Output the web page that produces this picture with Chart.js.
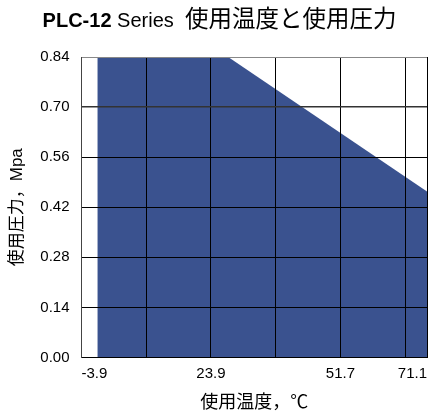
<!DOCTYPE html>
<html lang="ja">
<head>
  <meta charset="UTF-8">
  <title>PLC-12 Series 使用温度と使用圧力</title>
  <script src="https://cdn.jsdelivr.net/npm/chart.js"></script>
  <style>
    body {
      margin: 0;
      background-color: #fff;
    }
    .wrap {
      position: relative;
      width: 435px;
      height: 414px;
    }
  </style>
</head>
<body>
  <div class="wrap"><canvas id="chart"></canvas></div>

  <script>
    // operating envelope: temperature (°C) vs max pressure (MPa)
    const temperature = [-0.5, 27.6, 70.3];
    const pressure = [0.84, 0.84, 0.464];

    // x grid every 13.9 °C, last tick is the right edge (labelled 71.1)
    const xTickValues = [-3.9, 10.0, 23.9, 37.8, 51.7, 65.6, 70.3];
    const xTickLabels = ['-3.9', '', '23.9', '', '51.7', '', '71.1'];
    const yTickValues = [0, 0.14, 0.28, 0.42, 0.56, 0.70, 0.84];

    const latin = '"Liberation Sans", Arial, sans-serif';
    const cjk = '"Liberation Sans", "Noto Sans CJK JP", sans-serif';

    // title with bold model name, drawn on the canvas
    const titlePlugin = {
      id: 'mixedTitle',
      afterDraw(chart) {
        const ctx = chart.ctx;
        const parts = [
          { text: 'PLC-12', font: 'bold 20px ' + latin },
          { text: ' Series  ', font: '20px ' + latin },
          { text: '使用温度と使用圧力', font: '23.5px "Noto Sans CJK JP", sans-serif' }
        ];
        ctx.save();
        let total = 0;
        parts.forEach(p => {
          ctx.font = p.font;
          p.w = ctx.measureText(p.text).width;
          total += p.w;
        });
        let x = (chart.width - total) / 2 + 2;
        ctx.fillStyle = '#000';
        ctx.textBaseline = 'alphabetic';
        ctx.textAlign = 'left';
        parts.forEach(p => {
          ctx.font = p.font;
          ctx.fillText(p.text, x, 27);
          x += p.w;
        });
        ctx.restore();
      }
    };

    const points = temperature.map((t, i) => ({ x: t, y: pressure[i] }));

    new Chart(document.getElementById('chart').getContext('2d'), {
      type: 'line',
      data: {
        datasets: [{
          data: points,
          backgroundColor: '#3a528f',
          borderWidth: 0,
          pointRadius: 0,
          fill: 'origin',
          tension: 0
        }]
      },
      options: {
        responsive: true,
        maintainAspectRatio: false,
        animation: false,
        layout: { padding: { top: 57, right: 8, left: 0, bottom: 0 } },
        plugins: {
          legend: { display: false },
          tooltip: { enabled: false },
          title: { display: false }
        },
        scales: {
          x: {
            type: 'linear',
            min: -3.9,
            max: 70.3,
            z: 1,
            afterBuildTicks: scale => {
              scale.ticks = xTickValues.map(v => ({ value: v }));
            },
            afterFit: scale => {
              scale.height = 56.5;
              scale.paddingLeft = 0;
              scale.paddingRight = 0;
            },
            ticks: {
              autoSkip: false,
              maxRotation: 0,
              align: 'inner',
              padding: 7,
              color: '#000',
              font: { family: latin, size: 15 },
              callback: (value, index) => xTickLabels[index]
            },
            grid: {
              z: 1,
              drawTicks: false,
              color: '#000',
              lineWidth: 1
            },
            border: { z: 1, color: '#000', width: 1 },
            title: {
              display: true,
              text: '使用温度，℃',
              color: '#000',
              font: { family: cjk, size: 18 },
              padding: { top: 0, bottom: 0 }
            }
          },
          y: {
            min: 0,
            max: 0.84,
            z: 1,
            afterBuildTicks: scale => {
              scale.ticks = yTickValues.map(v => ({ value: v }));
            },
            afterFit: scale => {
              scale.width = 81.5;
            },
            ticks: {
              padding: 12,
              color: '#000',
              font: { family: latin, size: 15 },
              callback: value => value.toFixed(2)
            },
            grid: {
              z: 1,
              drawTicks: false,
              color: ctx => ctx.tick && ctx.tick.value === 0.84 ? '#888' : (ctx.tick && ctx.tick.value === 0.70 ? '#333' : '#000'),
              lineWidth: ctx => ctx.tick && ctx.tick.value === 0.70 ? 1.5 : 1
            },
            border: { z: 1, color: '#444', width: 1 },
            title: {
              display: true,
              text: '使用圧力，Mpa',
              color: '#000',
              font: { family: cjk, size: 17 },
              padding: { top: 7, bottom: 0 }
            }
          }
        }
      },
      plugins: [titlePlugin]
    });
  </script>
</body>
</html>
